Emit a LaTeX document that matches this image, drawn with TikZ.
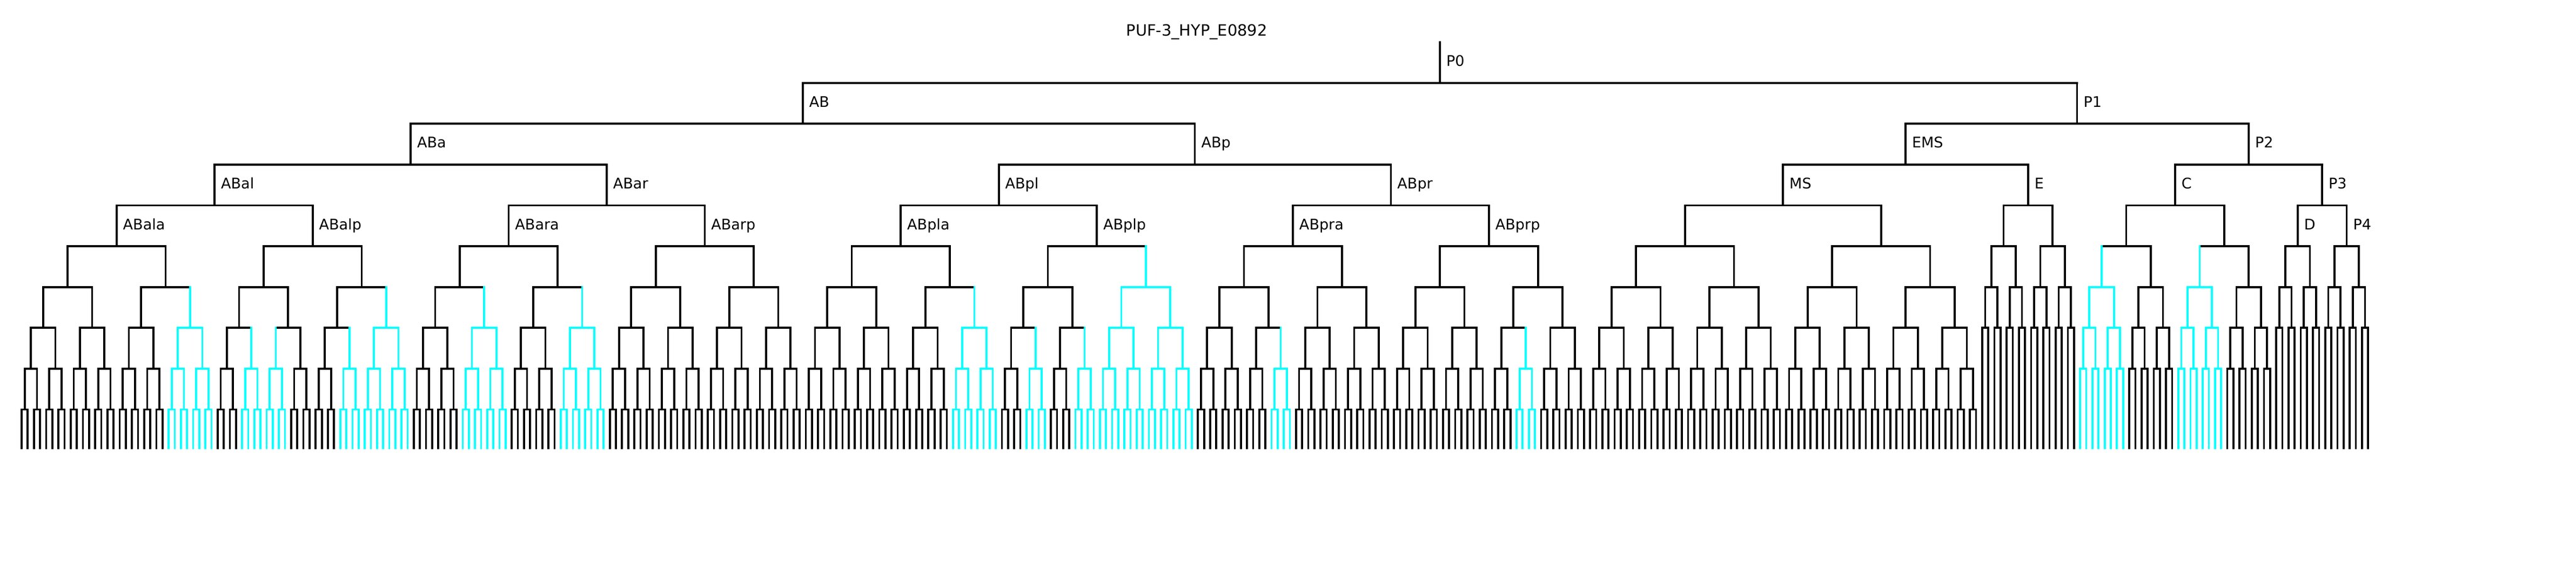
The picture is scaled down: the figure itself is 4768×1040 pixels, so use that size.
\documentclass[tikz,border=0pt]{standalone}
\usepackage{fontspec}
\setmainfont{DejaVu Sans}
\usetikzlibrary{calc}
\definecolor{expr}{RGB}{0,255,255}
\tikzset{
  lineage/.style={line width=0.37mm, line cap=rect},
  lbl/.style={anchor=base west, inner sep=0pt, xshift=1.12mm, yshift=-4.45mm,
    font=\fontsize{7.7}{9}\selectfont},
}
% leaf spacing and level heights, in pixels of the 4768x1040 sheet
\newcommand\xfirst{40}
\newcommand\leafgap{11.34}
\newcommand\ytopo{78.1}
\newcommand\levgap{75.6}
\newcommand\ybottom{830}
% #1 first leaf, #2 divisions left, #3 level, #4 colour, #5 cell name
\newcommand\lintree[5]{%
  \pgfmathsetmacro\cx{\xfirst+\leafgap*(#1+(2^(#2)-1)/2)}%
  \pgfmathsetmacro\ytop{\ytopo+\levgap*(#3)}%
  \coordinate (#5) at (\cx,\ytop);
  \ifnum#2=0
    \draw[lineage,#4] (#5) -- (\cx,\ybottom);
    \def\lintreenext{}%
  \else
    \pgfmathsetmacro\ydiv{\ytop+\levgap}%
    \pgfmathtruncatemacro\half{2^(#2-1)}%
    \pgfmathsetmacro\xl{\xfirst+\leafgap*(#1+(\half-1)/2)}%
    \pgfmathsetmacro\xr{\xl+\leafgap*\half}%
    \draw[lineage,#4] (#5) -- (\cx,\ydiv) (\xl,\ydiv) -- (\xr,\ydiv);
    \pgfmathtruncatemacro\ib{#1+\half}%
    \pgfmathtruncatemacro\ndiv{#2-1}%
    \pgfmathtruncatemacro\nlev{#3+1}%
    \ifnum\nlev=3 \def\sufa{l}\def\sufb{r}\else\def\sufa{a}\def\sufb{p}\fi
    \edef\lintreenext{\noexpand\lintree{#1}{\ndiv}{\nlev}{#4}{#5\sufa}%
      \noexpand\lintree{\ib}{\ndiv}{\nlev}{#4}{#5\sufb}}%
  \fi
  \lintreenext}

\begin{document}
\begin{tikzpicture}[x=0.1mm, y=-0.1mm]
  \useasboundingbox (0,0) rectangle (4768,1040);

  % founder lineages
  \lintree{0}{8}{1}{black}{AB}
  \lintree{256}{6}{3}{black}{MS}
  \lintree{320}{4}{3}{black}{E}
  \lintree{336}{5}{3}{black}{C}
  \lintree{368}{3}{4}{black}{D}
  \lintree{376}{3}{4}{black}{P4}

  % P cells above them
  \coordinate (P3) at ($(D)!0.5!(P4)+(0,-\levgap)$);
  \coordinate (P2) at ($(C)!0.5!(P3)+(0,-\levgap)$);
  \coordinate (EMS) at ($(MS)!0.5!(E)+(0,-\levgap)$);
  \coordinate (P1) at ($(EMS)!0.5!(P2)+(0,-\levgap)$);
  \coordinate (P0) at ($(AB)!0.5!(P1)+(0,-\levgap)$);
  \foreach \p/\a/\b in {P0/AB/P1, P1/EMS/P2, EMS/MS/E, P2/C/P3, P3/D/P4}
    \draw[lineage] (\p) -- (\p |- \a) (\a) -- (\b);

  % expressing cells
  \foreach \fl/\dv/\lv/\nm in {24/3/6/ABalapp, 36/2/7/ABalpaap, 40/2/7/ABalpapa,
      52/2/7/ABalppap, 56/3/6/ABalppp, 72/3/6/ABaraap, 88/3/6/ABarapp,
      152/3/6/ABplapp, 164/2/7/ABplpaap, 172/2/7/ABplpapp, 176/4/5/ABplpp,
      204/2/7/ABpraapp, 244/2/7/ABprppap, 336/3/5/Caa, 352/3/5/Cpa}
    {\lintree{\fl}{\dv}{\lv}{expr}{\nm}}

  % labels
  \foreach \c in {P0, AB, P1, ABa, ABp, EMS, P2, ABal, ABar, ABpl, ABpr, MS, E, C, P3,
      ABala, ABalp, ABara, ABarp, ABpla, ABplp, ABpra, ABprp, D, P4}
    \node[lbl] (l\c) at (\c) {\c};

  \node[anchor=base west, inner sep=0pt, font=\fontsize{8.2}{10}\selectfont] (title) at (2084,66.7) {PUF-3\_HYP\_E0892};
\end{tikzpicture}
\end{document}
